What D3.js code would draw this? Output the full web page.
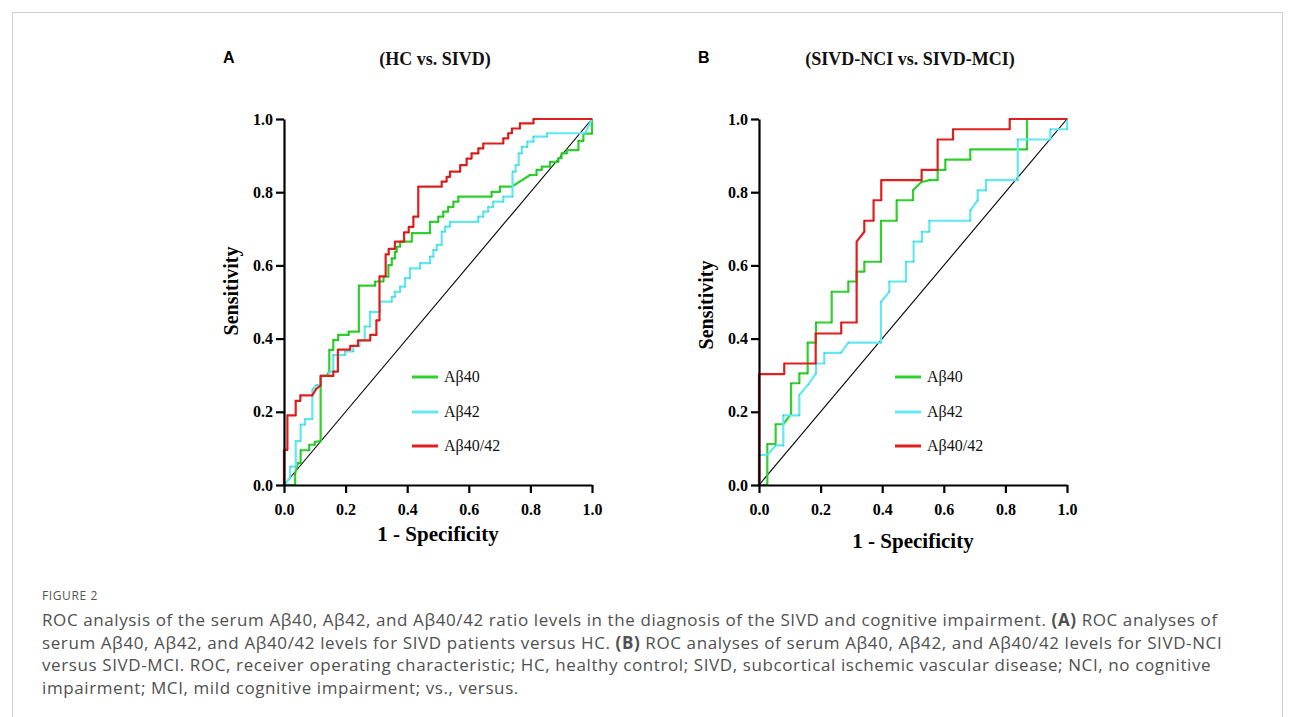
<!DOCTYPE html>
<html>
<head>
<meta charset="utf-8">
<script src="https://cdn.jsdelivr.net/npm/d3@7"></script>
<style>
  body { margin: 0; background: #fff; }
  svg { display: block; }
</style>
</head>
<body>
<svg id="chart" width="1295" height="717"></svg>
<script>
const axisTicks = [0, 0.2, 0.4, 0.6, 0.8, 1.0];
const seriesNames = ["Aβ40", "Aβ42", "Aβ40/42"];
const seriesColors = ["#2fd12f", "#62e8f2", "#e0201e"];
const seriesDots = ["#1a7a1a", "#2a9aa8", "#8a1010"];

// ROC corner points [1 - specificity, sensitivity]
// Panel A: HC vs. SIVD
const rocA40 = [[0,0],[0.036,0],[0.036,0.03],[0.045,0.06],[0.054,0.06],[0.054,0.095],[0.082,0.095],[0.082,0.11],[0.1,0.11],[0.1,0.118],[0.119,0.12],[0.119,0.298],[0.138,0.298],[0.147,0.31],[0.147,0.369],[0.16,0.369],[0.16,0.396],[0.176,0.396],[0.176,0.41],[0.21,0.41],[0.21,0.419],[0.243,0.419],[0.243,0.545],[0.296,0.545],[0.296,0.556],[0.323,0.556],[0.323,0.569],[0.339,0.569],[0.339,0.601],[0.35,0.601],[0.35,0.619],[0.36,0.619],[0.36,0.637],[0.366,0.637],[0.366,0.651],[0.377,0.651],[0.377,0.665],[0.415,0.665],[0.415,0.688],[0.474,0.688],[0.474,0.719],[0.501,0.719],[0.501,0.733],[0.517,0.733],[0.517,0.747],[0.533,0.747],[0.533,0.76],[0.55,0.76],[0.55,0.774],[0.566,0.774],[0.566,0.788],[0.674,0.788],[0.674,0.801],[0.701,0.801],[0.701,0.815],[0.739,0.815],[0.799,0.847],[0.82,0.847],[0.82,0.861],[0.837,0.861],[0.837,0.87],[0.864,0.87],[0.864,0.883],[0.891,0.883],[0.891,0.893],[0.901,0.893],[0.901,0.906],[0.918,0.906],[0.918,0.915],[0.956,0.915],[0.956,0.94],[0.972,0.94],[0.972,0.96],[1,0.96],[1,1]];
const rocA42 = [[0,0],[0.02,0.02],[0.02,0.05],[0.038,0.05],[0.038,0.12],[0.054,0.12],[0.054,0.165],[0.068,0.165],[0.068,0.18],[0.092,0.18],[0.092,0.26],[0.104,0.273],[0.119,0.273],[0.119,0.298],[0.147,0.298],[0.147,0.31],[0.16,0.31],[0.16,0.355],[0.198,0.355],[0.198,0.365],[0.225,0.365],[0.225,0.38],[0.245,0.38],[0.245,0.395],[0.262,0.395],[0.262,0.433],[0.279,0.433],[0.279,0.473],[0.312,0.473],[0.312,0.501],[0.35,0.501],[0.35,0.514],[0.36,0.514],[0.36,0.528],[0.377,0.528],[0.377,0.542],[0.393,0.542],[0.393,0.565],[0.409,0.565],[0.409,0.592],[0.442,0.592],[0.442,0.606],[0.474,0.606],[0.474,0.624],[0.485,0.624],[0.485,0.642],[0.496,0.642],[0.496,0.656],[0.512,0.656],[0.512,0.692],[0.523,0.692],[0.523,0.706],[0.539,0.706],[0.539,0.719],[0.631,0.719],[0.631,0.733],[0.647,0.733],[0.647,0.747],[0.663,0.747],[0.663,0.76],[0.679,0.76],[0.679,0.774],[0.712,0.774],[0.712,0.788],[0.742,0.788],[0.742,0.856],[0.752,0.856],[0.752,0.874],[0.762,0.874],[0.762,0.906],[0.772,0.906],[0.772,0.924],[0.79,0.924],[0.79,0.938],[0.81,0.938],[0.81,0.952],[0.854,0.952],[0.854,0.961],[0.978,0.961],[1,1]];
const rocA4042 = [[0,0],[0,0.096],[0.011,0.096],[0.011,0.19],[0.038,0.19],[0.038,0.23],[0.053,0.23],[0.053,0.245],[0.092,0.245],[0.104,0.262],[0.119,0.272],[0.119,0.298],[0.16,0.298],[0.16,0.31],[0.175,0.31],[0.175,0.37],[0.215,0.37],[0.215,0.38],[0.24,0.38],[0.24,0.395],[0.28,0.395],[0.28,0.41],[0.3,0.41],[0.3,0.45],[0.31,0.45],[0.31,0.57],[0.33,0.57],[0.33,0.63],[0.34,0.63],[0.34,0.645],[0.36,0.645],[0.36,0.665],[0.39,0.665],[0.39,0.69],[0.405,0.69],[0.405,0.705],[0.42,0.705],[0.42,0.733],[0.436,0.733],[0.436,0.815],[0.512,0.815],[0.512,0.829],[0.528,0.829],[0.528,0.842],[0.539,0.842],[0.539,0.856],[0.572,0.856],[0.572,0.874],[0.593,0.874],[0.593,0.892],[0.609,0.892],[0.609,0.906],[0.631,0.906],[0.631,0.92],[0.647,0.92],[0.647,0.933],[0.712,0.933],[0.712,0.947],[0.728,0.947],[0.728,0.961],[0.74,0.961],[0.74,0.974],[0.766,0.974],[0.766,0.988],[0.81,0.988],[0.81,1],[1,1]];

// Panel B: SIVD-NCI vs. SIVD-MCI
const rocB40 = [[0,0],[0.027,0],[0.027,0.112],[0.054,0.112],[0.054,0.166],[0.079,0.166],[0.104,0.194],[0.104,0.278],[0.131,0.278],[0.131,0.305],[0.158,0.305],[0.158,0.389],[0.185,0.389],[0.185,0.444],[0.236,0.444],[0.236,0.528],[0.29,0.528],[0.29,0.556],[0.317,0.556],[0.317,0.583],[0.342,0.583],[0.342,0.61],[0.396,0.61],[0.396,0.722],[0.447,0.722],[0.447,0.778],[0.5,0.778],[0.5,0.805],[0.527,0.828],[0.555,0.833],[0.58,0.833],[0.58,0.861],[0.605,0.861],[0.605,0.889],[0.686,0.889],[0.686,0.917],[0.87,0.917],[0.87,1],[1,1]];
const rocB42 = [[0,0],[0,0.082],[0.027,0.082],[0.054,0.108],[0.079,0.108],[0.079,0.19],[0.131,0.19],[0.131,0.246],[0.16,0.275],[0.185,0.305],[0.185,0.332],[0.212,0.332],[0.212,0.361],[0.266,0.361],[0.29,0.389],[0.396,0.389],[0.396,0.5],[0.423,0.528],[0.423,0.556],[0.477,0.556],[0.477,0.61],[0.502,0.61],[0.502,0.665],[0.529,0.665],[0.529,0.692],[0.553,0.692],[0.553,0.722],[0.686,0.722],[0.686,0.75],[0.71,0.778],[0.71,0.805],[0.737,0.805],[0.737,0.833],[0.84,0.833],[0.84,0.944],[0.946,0.944],[0.946,0.972],[1,0.972],[1,1]];
const rocB4042 = [[0,0],[0,0.303],[0.082,0.303],[0.082,0.332],[0.184,0.332],[0.184,0.414],[0.267,0.414],[0.267,0.444],[0.317,0.444],[0.317,0.665],[0.342,0.692],[0.342,0.722],[0.372,0.722],[0.372,0.778],[0.397,0.778],[0.397,0.833],[0.528,0.833],[0.528,0.861],[0.58,0.861],[0.58,0.944],[0.63,0.944],[0.63,0.972],[0.814,0.972],[0.814,1],[1,1]];

const panelLetters = ["A", "B"];
const panelTitles = ["(HC vs. SIVD)", "(SIVD-NCI vs. SIVD-MCI)"];
const panelSeries = [[rocA40, rocA42, rocA4042], [rocB40, rocB42, rocB4042]];

const captionLabel = "FIGURE 2";
const captionLines = [
  [["ROC analysis of the serum Aβ40, Aβ42, and Aβ40/42 ratio levels in the diagnosis of the SIVD and cognitive impairment. ", false], ["(A)", true], [" ROC analyses of", false]],
  [["serum Aβ40, Aβ42, and Aβ40/42 levels for SIVD patients versus HC. ", false], ["(B)", true], [" ROC analyses of serum Aβ40, Aβ42, and Aβ40/42 levels for SIVD-NCI", false]],
  [["versus SIVD-MCI. ROC, receiver operating characteristic; HC, healthy control; SIVD, subcortical ischemic vascular disease; NCI, no cognitive", false]],
  [["impairment; MCI, mild cognitive impairment; vs., versus.", false]]
];

const svg = d3.select("#chart");
const serif = "'Liberation Serif', 'Times New Roman', serif";

// figure frame
svg.append("rect")
  .attr("x", 12.5).attr("y", 12.5)
  .attr("width", 1270).attr("height", 760)
  .attr("fill", "none").attr("stroke", "#d0d0d0");

const plotW = 308, plotH = 366, plotTop = 119;
const panelLeft = [284, 759];
const legendOffset = [128, 136];
const xTitleY = [541, 548];
const yTitleCenter = [291, 305];

panelLetters.forEach((letter, i) => {
  const g = svg.append("g").attr("transform", `translate(${panelLeft[i]},${plotTop})`);
  const x = d3.scaleLinear().domain([0, 1]).range([0, plotW]);
  const y = d3.scaleLinear().domain([0, 1]).range([plotH, 0]);

  // panel letter and title
  svg.append("text")
    .attr("x", panelLeft[i] - 61).attr("y", 63)
    .attr("font-family", "'Liberation Sans', Arial, sans-serif")
    .attr("font-weight", "bold").attr("font-size", 16)
    .text(letter);
  svg.append("text")
    .attr("x", panelLeft[i] + plotW / 2 - 3).attr("y", 65)
    .attr("text-anchor", "middle")
    .attr("font-family", serif).attr("font-weight", "bold").attr("font-size", 18)
    .attr("fill", "#111")
    .text(panelTitles[i]);

  // reference diagonal
  g.append("line")
    .attr("x1", x(0)).attr("y1", y(0))
    .attr("x2", x(1)).attr("y2", y(1))
    .attr("stroke", "#000").attr("stroke-width", 1.1);

  const line = d3.line().x(d => x(d[0])).y(d => y(d[1]));

  panelSeries[i].forEach((pts, s) => {
    g.append("path")
      .datum(pts)
      .attr("d", line)
      .attr("fill", "none")
      .attr("stroke", seriesColors[s])
      .attr("stroke-width", 2.2)
      .attr("stroke-linejoin", "round");
    g.append("g")
      .selectAll("circle")
      .data(pts)
      .join("circle")
      .attr("cx", d => x(d[0]))
      .attr("cy", d => y(d[1]))
      .attr("r", 0.7)
      .attr("fill", seriesDots[s])
      .attr("opacity", 0.6);
  });

  // axes
  const yAxis = g.append("g")
    .call(d3.axisLeft(y).tickValues(axisTicks).tickFormat(d3.format(".1f"))
      .tickSize(8).tickSizeOuter(0).tickPadding(3));
  const xAxis = g.append("g")
    .attr("transform", `translate(0,${plotH})`)
    .call(d3.axisBottom(x).tickValues(axisTicks).tickFormat(d3.format(".1f"))
      .tickSize(8).tickSizeOuter(0).tickPadding(11));
  [yAxis, xAxis].forEach(ax => {
    ax.select(".domain").attr("stroke", "#000").attr("stroke-width", 2.2);
    ax.selectAll(".tick line").attr("stroke", "#000").attr("stroke-width", 2.2);
    ax.selectAll(".tick text")
      .attr("fill", "#000")
      .attr("font-family", serif).attr("font-weight", "bold").attr("font-size", 16);
  });

  // axis titles
  svg.append("text")
    .attr("x", panelLeft[i] + plotW / 2).attr("y", xTitleY[i])
    .attr("text-anchor", "middle")
    .attr("font-family", serif).attr("font-weight", "bold").attr("font-size", 21)
    .text("1 - Specificity");
  svg.append("text")
    .attr("transform", `translate(${panelLeft[i] - 46},${yTitleCenter[i]}) rotate(-90)`)
    .attr("text-anchor", "middle")
    .attr("font-family", serif).attr("font-weight", "bold").attr("font-size", 20)
    .text("Sensitivity");

  // legend
  const leg = g.append("g").attr("transform", `translate(${legendOffset[i]},0)`);
  const legRows = [258, 293, 327];
  seriesNames.forEach((name, s) => {
    leg.append("line")
      .attr("x1", 0).attr("x2", 26)
      .attr("y1", legRows[s]).attr("y2", legRows[s])
      .attr("stroke", seriesColors[s]).attr("stroke-width", 3);
    leg.append("text")
      .attr("x", 32).attr("y", legRows[s] + 5)
      .attr("font-family", serif).attr("font-size", 16)
      .attr("fill", "#111")
      .text(name);
  });
});

// caption
const sans = "'Open Sans', 'Noto Sans', sans-serif";
svg.append("text")
  .attr("x", 42).attr("y", 600)
  .attr("font-family", sans).attr("font-size", 12)
  .attr("fill", "#555").attr("letter-spacing", 0.6)
  .text(captionLabel);

captionLines.forEach((parts, li) => {
  const t = svg.append("text")
    .attr("x", 42).attr("y", 626 + li * 22.5)
    .attr("font-family", sans).attr("font-size", 17)
    .attr("letter-spacing", 0.6)
    .attr("fill", "#505050");
  parts.forEach(([txt, bold]) => {
    t.append("tspan")
      .attr("font-weight", bold ? "bold" : "normal")
      .text(txt);
  });
});
</script>
</body>
</html>
